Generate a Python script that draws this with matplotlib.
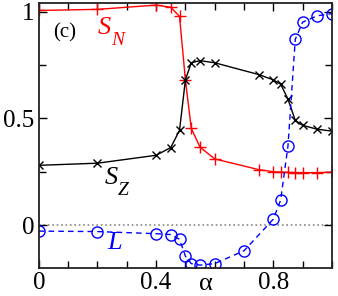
import matplotlib
matplotlib.use('Agg')
import matplotlib.pyplot as plt
from matplotlib.ticker import MultipleLocator, FuncFormatter

plt.rcParams['font.family'] = ['Liberation Serif', 'DejaVu Serif']

# alpha grid for S_N and S_Z
alpha = [0, 0.2, 0.4, 0.45, 0.48, 0.5, 0.52, 0.55, 0.6, 0.75, 0.8, 0.825, 0.85, 0.875, 0.9, 0.95, 1.0]
s_n = [1.005, 1.01, 1.03, 1.02, 0.977, 0.68, 0.453, 0.365, 0.31, 0.26, 0.25, 0.248, 0.247, 0.246, 0.246, 0.246, 0.248]
s_z = [0.28, 0.29, 0.327, 0.363, 0.444, 0.68, 0.76, 0.77, 0.76, 0.705, 0.68, 0.66, 0.59, 0.49, 0.467, 0.449, 0.44]

# alpha grid for L
alpha_l = [0, 0.2, 0.4, 0.45, 0.48, 0.5, 0.52, 0.55, 0.6, 0.7, 0.8, 0.825, 0.85, 0.875, 0.9, 0.95, 1.0]
l_vals = [-0.028, -0.03, -0.04, -0.044, -0.066, -0.145, -0.18, -0.187, -0.18, -0.12, 0.028, 0.117, 0.37, 0.87, 0.95, 0.98, 0.99]

fig = plt.figure(figsize=(3.38, 2.96), dpi=100)
ax = fig.add_axes([0.115, 0.095, 0.867, 0.895])

ax.axhline(0, color='#888888', linestyle=':', linewidth=1.2, zorder=1)

ax.plot(alpha, s_n, color='red', marker='+', markersize=9, markeredgewidth=1, linewidth=1)
ax.plot(alpha, s_z, color='black', marker='x', markersize=6, markeredgewidth=1, linewidth=1)
ax.plot(alpha_l, l_vals, color='blue', marker='o', markersize=8, fillstyle='none',
        markeredgewidth=1, linewidth=1, linestyle='--', dashes=(4, 3))

ax.set_xlim(0, 1.0)
ax.set_ylim(-0.2, 1.04)

ax.xaxis.set_major_locator(MultipleLocator(0.4))
ax.xaxis.set_minor_locator(MultipleLocator(0.1))
ax.yaxis.set_major_locator(MultipleLocator(0.5))
ax.yaxis.set_minor_locator(MultipleLocator(0.25))
fmt = FuncFormatter(lambda v, p: '%g' % round(v, 2))
ax.xaxis.set_major_formatter(fmt)
ax.yaxis.set_major_formatter(fmt)

ax.tick_params(which='both', direction='in', top=True, right=True, labelsize=18, pad=3)
ax.tick_params(which='major', length=6, width=1)
ax.tick_params(which='minor', length=5, width=1)
for sp in ax.spines.values():
    sp.set_linewidth(1.3)
    sp.set_color('#222222')

ax.text(0.05, 0.925, '(c)', fontsize=15, transform=ax.transAxes, va='top')

# curve labels: italic letter plus subscript
ax.text(0.2, 0.925, 'S', color='red', fontsize=19, style='italic', va='center')
ax.text(0.245, 0.865, 'N', color='red', fontsize=14, style='italic', va='center')
ax.text(0.225, 0.22, 'S', color='black', fontsize=19, style='italic', va='center')
ax.text(0.27, 0.16, 'Z', color='black', fontsize=14, style='italic', va='center')
ax.text(0.235, -0.085, 'L', color='blue', fontsize=19, style='italic', va='center')

ax.text(0.57, -0.222, '\u03b1', fontsize=19, ha='center', va='top', clip_on=False)

fig.savefig('out.png', dpi=100)
